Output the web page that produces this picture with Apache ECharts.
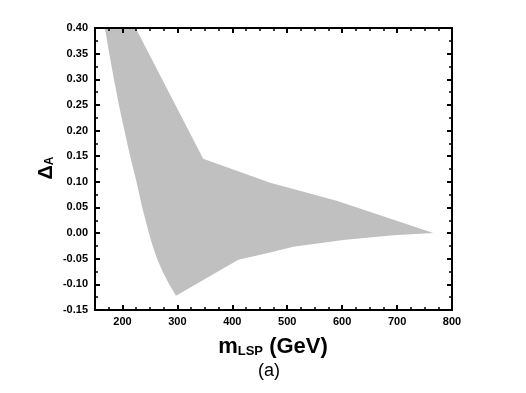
<!DOCTYPE html>
<html>
<head>
<meta charset="utf-8">
<script src="https://cdn.jsdelivr.net/npm/echarts@6/dist/echarts.min.js"></script>
<style>
  html, body { margin: 0; padding: 0; background: #fff; }
  #main { width: 526px; height: 393px; }
</style>
</head>
<body>
<div id="main"></div>
<script>
// x tick labels (GeV)
var xTicks = [200, 300, 400, 500, 600, 700, 800];
// upper edge of the band, from the top of the plot to the tip
var upperX = [224, 347, 469, 590, 766];
var upperY = [0.40, 0.145, 0.098, 0.063, 0.0];
// lower edge, from the tip back to the top of the plot
var lowerX = [693, 602, 511, 469, 411, 297.5, 285, 273, 263, 255, 248, 236, 225.5, 214, 203.5, 193.5, 184.5, 176, 168];
var lowerY = [-0.004, -0.0135, -0.0265, -0.038, -0.052, -0.122, -0.10, -0.075, -0.05, -0.025, 0.0, 0.05, 0.10, 0.15, 0.20, 0.25, 0.30, 0.35, 0.40];

var shape = [];
for (var i = 0; i < upperX.length; i++) shape.push([upperX[i], upperY[i]]);
for (var j = 0; j < lowerX.length; j++) shape.push([lowerX[j], lowerY[j]]);

var font = 'Liberation Sans, Arial, sans-serif';
var gridBox = { left: 95, top: 28, right: 74, bottom: 83 };
var axisLine = { show: true, onZero: false, lineStyle: { color: '#000', width: 2 } };

function majorX(pos, labels) {
  return {
    type: 'value', gridIndex: 0, position: pos, min: 150, max: 800, z: 5,
    axisLine: axisLine,
    axisTick: { show: true, inside: true, length: 5, customValues: xTicks, lineStyle: { color: '#000', width: 2 } },
    axisLabel: { show: labels, customValues: xTicks, color: '#000', fontFamily: font, fontWeight: 'bold', fontSize: 11, margin: 6 },
    splitLine: { show: false }
  };
}
function minorX(pos) {
  return {
    type: 'value', gridIndex: 1, position: pos, min: 150, max: 800, interval: 25, z: 5,
    axisLine: { show: false, onZero: false },
    axisTick: { show: true, inside: true, length: 3, lineStyle: { color: '#000', width: 1.5 } },
    axisLabel: { show: false },
    splitLine: { show: false }
  };
}
function yAx(pos, labels) {
  return {
    type: 'value', gridIndex: 0, position: pos, min: -0.15, max: 0.40, interval: 0.05, z: 5,
    axisLine: axisLine,
    axisTick: { show: true, inside: true, length: 5, lineStyle: { color: '#000', width: 2 } },
    minorTick: { show: true, splitNumber: 2, length: 3, lineStyle: { color: '#000', width: 1.5 } },
    axisLabel: { show: labels, color: '#000', fontFamily: font, fontWeight: 'bold', fontSize: 11, margin: 7,
      formatter: function (v) { return v.toFixed(2); } },
    splitLine: { show: false },
    minorSplitLine: { show: false }
  };
}

var myChart = echarts.init(document.getElementById('main'));
var option = {
  animation: false,
  backgroundColor: '#fff',
  grid: [
    Object.assign({}, gridBox),
    Object.assign({}, gridBox)
  ],
  xAxis: [majorX('bottom', true), majorX('top', false), minorX('bottom'), minorX('top')],
  yAxis: [yAx('left', true), yAx('right', false),
    { type: 'value', gridIndex: 1, show: false, min: -0.15, max: 0.40, axisLine: { onZero: false } }],
  graphic: [
    {
      type: 'text', x: 273, y: 347,
      style: {
        text: '{m|m}{s|LSP}{g| (GeV)}',
        fill: '#000', align: 'center', verticalAlign: 'middle',
        rich: {
          m: { fontFamily: font, fontWeight: 'bold', fontSize: 22 },
          s: { fontFamily: font, fontWeight: 'bold', fontSize: 13, verticalAlign: 'bottom' },
          g: { fontFamily: font, fontWeight: 'bold', fontSize: 22 }
        }
      }
    },
    {
      type: 'text', x: 269, y: 371,
      style: { text: '(a)', fill: '#000', font: '18px ' + font, align: 'center', verticalAlign: 'middle' }
    },
    {
      type: 'text', x: 46, y: 168, rotation: Math.PI / 2,
      style: {
        text: '{d|Δ}{a|A}', fill: '#000', align: 'center', verticalAlign: 'middle',
        rich: {
          d: { fontFamily: font, fontWeight: 'bold', fontSize: 20 },
          a: { fontFamily: font, fontWeight: 'bold', fontSize: 12, verticalAlign: 'bottom' }
        }
      }
    }
  ],
  series: [{
    type: 'custom',
    xAxisIndex: 0,
    yAxisIndex: 0,
    silent: true,
    clip: true,
    data: shape,
    renderItem: function (params, api) {
      if (params.dataIndex !== 0) return null;
      var pts = shape.map(function (p) { return api.coord(p); });
      return { type: 'polygon', shape: { points: pts }, style: { fill: '#c0c0c0' } };
    }
  }]
};
myChart.setOption(option);
</script>
</body>
</html>
